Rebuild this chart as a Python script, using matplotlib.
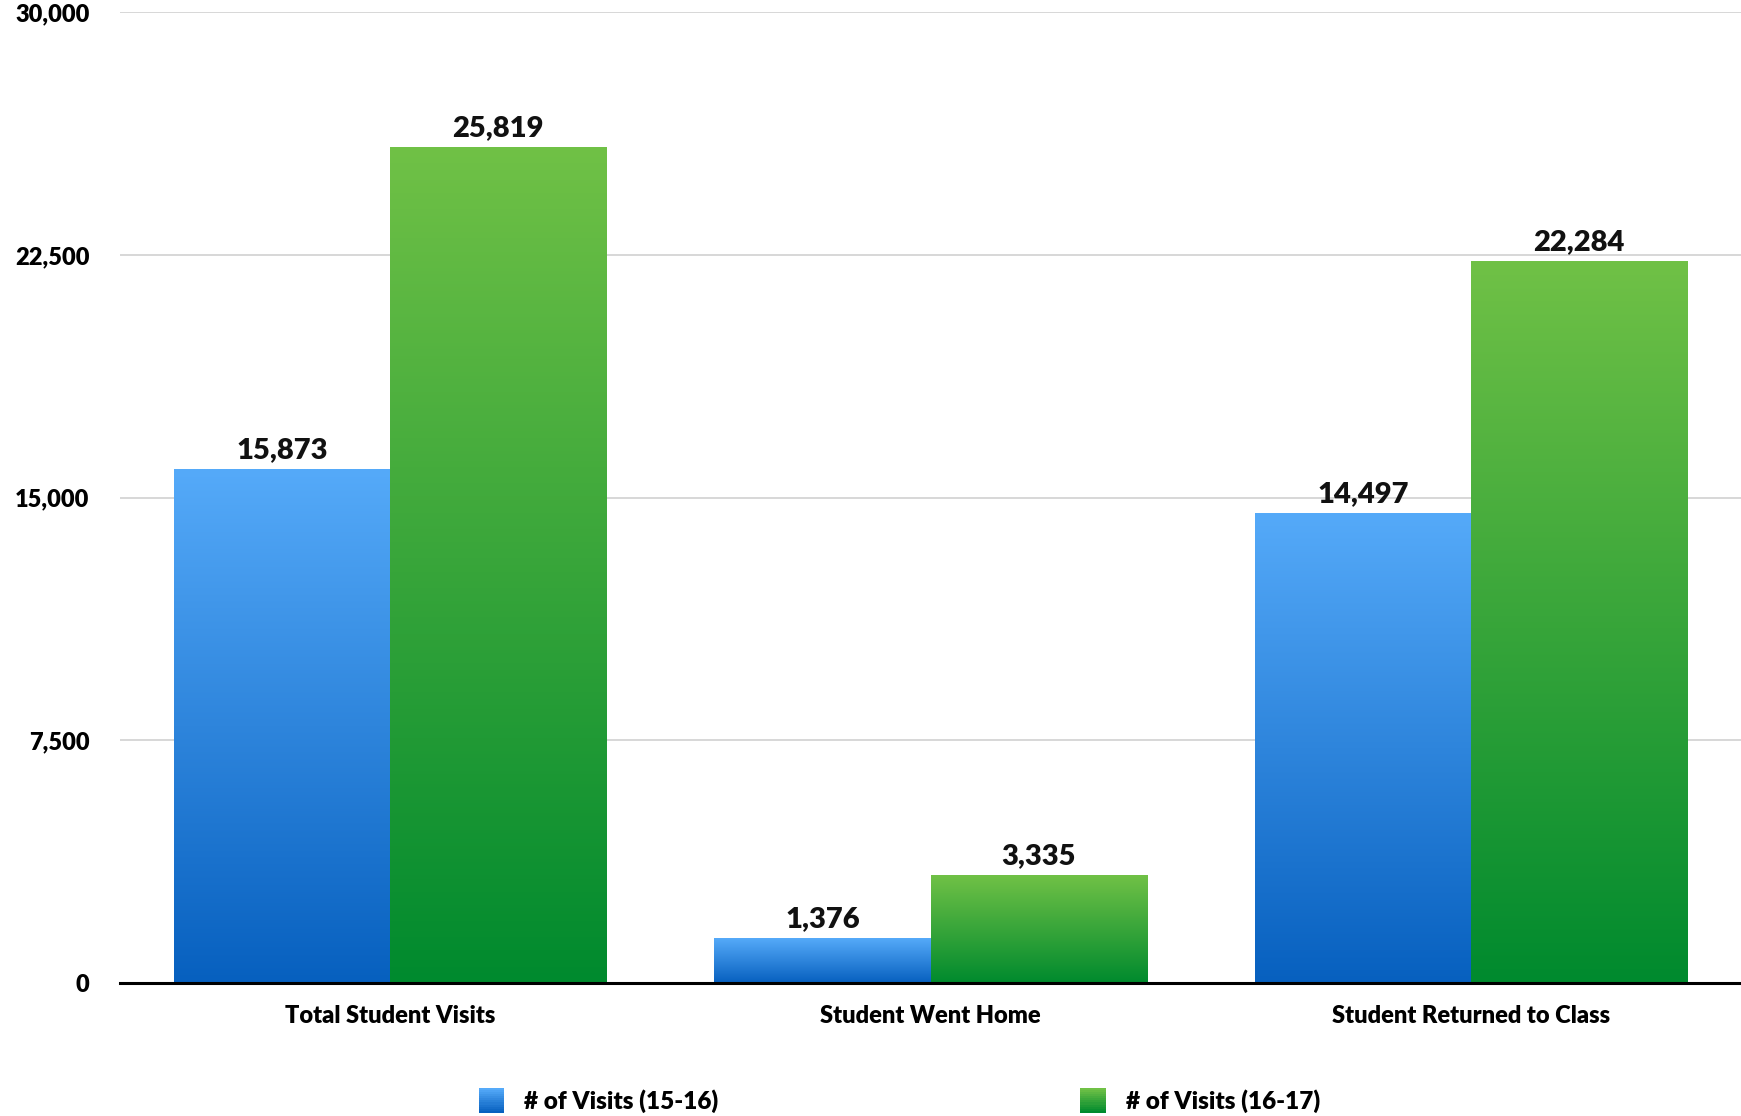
import matplotlib
matplotlib.use("Agg")
import matplotlib.pyplot as plt
import numpy as np
from matplotlib.colors import LinearSegmentedColormap
from matplotlib.legend_handler import HandlerBase
from matplotlib.patches import Rectangle

categories = ["Total Student Visits", "Student Went Home", "Student Returned to Class"]
series_names = ["# of Visits (15-16)", "# of Visits (16-17)"]
visits_1516 = [15873, 1376, 14497]
visits_1617 = [25819, 3335, 22284]
y_ticks = [0, 7500, 15000, 22500, 30000]

BLUE = ("#55aaf9", "#0760bf")
GREEN = ("#70c146", "#008a2e")
WEIGHT = "heavy"

plt.rcParams["font.family"] = ["Lato", "DejaVu Sans"]
plt.rcParams["font.weight"] = WEIGHT


def gradient_bar(ax, x, width, height, colors):
    cmap = LinearSegmentedColormap.from_list("g", [colors[1], colors[0]])
    grad = np.linspace(0, 1, 256).reshape(-1, 1)
    ax.imshow(grad, cmap=cmap, origin="lower", aspect="auto",
              extent=(x - width / 2, x + width / 2, 0, height), zorder=2)


class GradientHandler(HandlerBase):
    def __init__(self, colors):
        super().__init__()
        self.colors = colors

    def create_artists(self, legend, orig_handle, xdescent, ydescent, width, height, fontsize, trans):
        cmap = LinearSegmentedColormap.from_list("g", [self.colors[0], self.colors[1]])
        size = height * 1.5
        x0 = -xdescent + (width - size) / 2
        y0 = -ydescent + (height - size) / 2
        n = 12
        artists = []
        for i in range(n):
            r = Rectangle((x0, y0 + size * (n - 1 - i) / n), size, size / n + 0.3,
                          facecolor=cmap(i / (n - 1)), edgecolor="none", transform=trans)
            artists.append(r)
        return artists


fig = plt.figure(figsize=(17.41, 11.16), dpi=100)
ax = fig.add_axes([0.069, 0.119, 0.931, 0.870])

x = np.arange(len(categories))
width = 0.4
for xi, v1, v2 in zip(x, visits_1516, visits_1617):
    gradient_bar(ax, xi - width / 2, width, v1, BLUE)
    gradient_bar(ax, xi + width / 2, width, v2, GREEN)
    ax.text(xi - width / 2, v1 + 200, f"{v1:,}", ha="center", va="bottom",
            fontsize=21, fontweight=WEIGHT, color="#111111")
    ax.text(xi + width / 2, v2 + 200, f"{v2:,}", ha="center", va="bottom",
            fontsize=21, fontweight=WEIGHT, color="#111111")

ax.set_xlim(-0.5, 2.5)
ax.set_ylim(0, 30000)
ax.set_yticks(y_ticks)
ax.set_yticklabels([f"{t:,}" for t in y_ticks], fontsize=17, fontweight=WEIGHT)
ax.set_xticks(x)
ax.set_xticklabels(categories, fontsize=17, fontweight=WEIGHT)
ax.tick_params(axis="y", length=0, pad=22)
ax.tick_params(axis="x", length=0, pad=16)
ax.grid(axis="y", color="#d4d4d4", linewidth=1.3, zorder=0)
ax.set_axisbelow(True)
for side in ["top", "right", "left"]:
    ax.spines[side].set_visible(False)
ax.spines["bottom"].set_linewidth(2.2)
ax.spines["bottom"].set_color("black")
ax.spines["bottom"].set_zorder(3)

h1 = Rectangle((0, 0), 1, 1)
h2 = Rectangle((0, 0), 1, 1)
fig.legend([h1, h2], series_names, loc="center", bbox_to_anchor=(0.516, 0.013),
           ncol=2, frameon=False, columnspacing=14.8, handlelength=1.2,
           handletextpad=0.75, prop={"weight": WEIGHT, "size": 17.5},
           handler_map={h1: GradientHandler(BLUE), h2: GradientHandler(GREEN)})

fig.savefig("out.png", dpi=100)
